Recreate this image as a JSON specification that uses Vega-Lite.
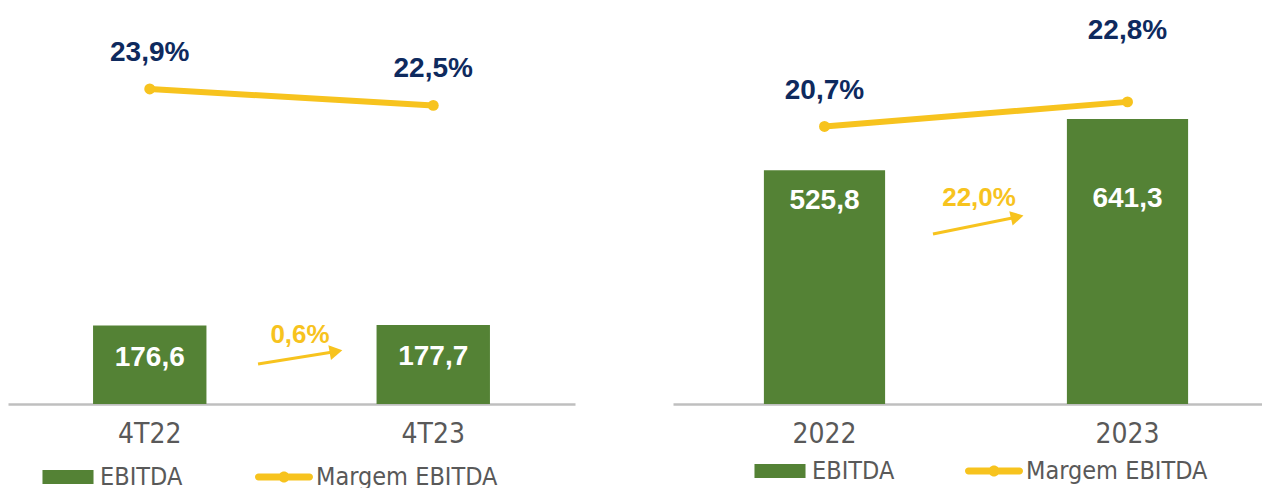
{
  "$schema": "https://vega.github.io/schema/vega-lite/v6.json",
  "padding": {"left": 8, "top": 0, "right": 0, "bottom": 0},
  "background": "white",
  "bounds": "flush",
  "spacing": 98,
  "config": {
    "view": {"stroke": null},
    "locale": {"number": {"decimal": ",", "thousands": ".", "grouping": [3], "currency": ["R$ ", ""]}}
  },
  "resolve": {"scale": {"color": "independent"}, "legend": {"color": "independent"}},
  "hconcat": [
    {
      "width": 567,
      "height": 404,
      "data": {"values": [
        {"periodo": "4T22", "ebitda": 176.6, "margem": 0.239},
        {"periodo": "4T23", "ebitda": 177.7, "margem": 0.225}
      ]},
      "layer": [
        {
          "layer": [
            {
              "mark": {"type": "bar"},
              "encoding": {
                "x": {"field": "periodo", "type": "nominal", "sort": null,
                  "scale": {"paddingInner": 0.6, "paddingOuter": 0.3},
                  "axis": {"title": null, "domainColor": "#BFBFBF", "domainWidth": 2.5, "ticks": false, "grid": false,
                    "labelFont": "DejaVu Sans Condensed", "labelFontSize": 28, "labelColor": "#595959", "labelPadding": 16, "labelAngle": 0}},
                "y": {"field": "ebitda", "type": "quantitative", "scale": {"domain": [0, 909]}, "axis": null},
                "color": {"datum": "EBITDA", "type": "nominal",
                  "scale": {"domain": ["EBITDA", "Margem EBITDA"], "range": ["#548235", "#F7C31E"]},
                  "legend": {"orient": "none", "legendX": 31, "legendY": 448, "direction": "horizontal", "title": null,
                    "padding": 0, "labelFont": "DejaVu Sans Condensed", "labelFontSize": 25, "labelColor": "#595959", "labelLimit": 400,
                    "symbolSize": 3364, "labelOffset": 3, "columnPadding": 72, "symbolStrokeWidth": 0,
                    "encode": {"symbols": {"update": {
                      "shape": {"signal": "datum.value === 'EBITDA' ? 'M-0.88,-0.24H0.88V0.24H-0.88Z' : 'M-0.88,-0.12H0.88A0.12,0.12 0 0,1 0.88,0.12H-0.88A0.12,0.12 0 0,1 -0.88,-0.12Z M-0.19,0A0.19,0.19 0 1,1 0.19,0A0.19,0.19 0 1,1 -0.19,0Z'"},
                      "fill": {"signal": "datum.value === 'EBITDA' ? '#548235' : '#F7C31E'"},
                      "stroke": {"value": null},
                      "strokeWidth": {"value": 0},
                      "opacity": {"value": 1}
                    }}}}}
              }
            },
            {
              "mark": {"type": "text", "font": "Liberation Sans", "fontWeight": "bold", "fontSize": 28, "color": "white", "baseline": "middle", "dy": 32},
              "encoding": {
                "x": {"field": "periodo", "type": "nominal", "sort": null},
                "y": {"field": "ebitda", "type": "quantitative", "scale": {"domain": [0, 909]}, "axis": null},
                "text": {"field": "ebitda", "type": "quantitative", "format": ".1f"}
              }
            },
            {
              "mark": {"type": "line", "strokeWidth": 6, "strokeCap": "round"},
              "encoding": {
                "x": {"field": "periodo", "type": "nominal", "sort": null},
                "y": {"field": "margem", "type": "quantitative", "scale": {"domain": [-0.03, 0.315]}, "axis": null},
                "color": {"datum": "Margem EBITDA", "type": "nominal"}
              }
            },
            {
              "mark": {"type": "point", "filled": true, "size": 120, "opacity": 1, "color": "#F7C31E"},
              "encoding": {
                "x": {"field": "periodo", "type": "nominal", "sort": null},
                "y": {"field": "margem", "type": "quantitative", "scale": {"domain": [-0.03, 0.315]}, "axis": null}
              }
            },
            {
              "mark": {"type": "text", "font": "Liberation Sans", "fontWeight": "bold", "fontSize": 28, "color": "#0E2A5E", "baseline": "middle", "dy": -36},
              "encoding": {
                "x": {"field": "periodo", "type": "nominal", "sort": null},
                "y": {"field": "margem", "type": "quantitative", "scale": {"domain": [-0.03, 0.315]}, "axis": null},
                "text": {"field": "margem", "type": "quantitative", "format": ".1%"}
              }
            }
          ],
          "resolve": {"scale": {"y": "independent"}}
        },
        {
          "data": {"values": [{"crescimento": 0.006}]},
          "layer": [
            {
              "mark": {"type": "rule", "color": "#F7C31E", "strokeWidth": 3},
              "encoding": {
                "x": {"datum": 0.882, "type": "quantitative", "scale": {"domain": [0, 2]}, "axis": null},
                "x2": {"datum": 1.157},
                "y": {"datum": 99, "type": "quantitative", "scale": {"domain": [0, 909]}, "axis": null},
                "y2": {"datum": 130}
              }
            },
            {
              "mark": {"type": "point", "shape": "triangle-right", "filled": true, "size": 220, "opacity": 1, "color": "#F7C31E", "angle": -10},
              "encoding": {
                "x": {"datum": 1.157, "type": "quantitative"},
                "y": {"datum": 130, "type": "quantitative"}
              }
            },
            {
              "mark": {"type": "text", "font": "Liberation Sans", "fontWeight": "bold", "fontSize": 26, "color": "#F7C31E", "baseline": "middle"},
              "encoding": {
                "x": {"datum": 1.03, "type": "quantitative"},
                "y": {"datum": 171, "type": "quantitative"},
                "text": {"field": "crescimento", "type": "quantitative", "format": ".1%"}
              }
            }
          ]
        }
      ],
      "resolve": {"scale": {"x": "independent", "y": "independent"}}
    },
    {
      "width": 606,
      "height": 404,
      "data": {"values": [
        {"periodo": "2022", "ebitda": 525.8, "margem": 0.207},
        {"periodo": "2023", "ebitda": 641.3, "margem": 0.228}
      ]},
      "layer": [
        {
          "layer": [
            {
              "mark": {"type": "bar"},
              "encoding": {
                "x": {"field": "periodo", "type": "nominal", "sort": null,
                  "scale": {"paddingInner": 0.6, "paddingOuter": 0.3},
                  "axis": {"title": null, "domainColor": "#BFBFBF", "domainWidth": 2.5, "ticks": false, "grid": false,
                    "labelFont": "DejaVu Sans Condensed", "labelFontSize": 28, "labelColor": "#595959", "labelPadding": 16, "labelAngle": 0}},
                "y": {"field": "ebitda", "type": "quantitative", "scale": {"domain": [0, 909]}, "axis": null},
                "color": {"datum": "EBITDA", "type": "nominal",
                  "scale": {"domain": ["EBITDA", "Margem EBITDA"], "range": ["#548235", "#F7C31E"]},
                  "legend": {"orient": "none", "legendX": 78, "legendY": 442, "direction": "horizontal", "title": null,
                    "padding": 0, "labelFont": "DejaVu Sans Condensed", "labelFontSize": 25, "labelColor": "#595959", "labelLimit": 400,
                    "symbolSize": 3364, "labelOffset": 3, "columnPadding": 70, "symbolStrokeWidth": 0,
                    "encode": {"symbols": {"update": {
                      "shape": {"signal": "datum.value === 'EBITDA' ? 'M-0.88,-0.24H0.88V0.24H-0.88Z' : 'M-0.88,-0.12H0.88A0.12,0.12 0 0,1 0.88,0.12H-0.88A0.12,0.12 0 0,1 -0.88,-0.12Z M-0.19,0A0.19,0.19 0 1,1 0.19,0A0.19,0.19 0 1,1 -0.19,0Z'"},
                      "fill": {"signal": "datum.value === 'EBITDA' ? '#548235' : '#F7C31E'"},
                      "stroke": {"value": null},
                      "strokeWidth": {"value": 0},
                      "opacity": {"value": 1}
                    }}}}}
              }
            },
            {
              "transform": [{"filter": "datum.periodo == '2022'"}],
              "mark": {"type": "text", "font": "Liberation Sans", "fontWeight": "bold", "fontSize": 28, "color": "white", "baseline": "middle", "dy": 31},
              "encoding": {
                "x": {"field": "periodo", "type": "nominal", "sort": null},
                "y": {"field": "ebitda", "type": "quantitative", "scale": {"domain": [0, 909]}, "axis": null},
                "text": {"field": "ebitda", "type": "quantitative", "format": ".1f"}
              }
            },
            {
              "transform": [{"filter": "datum.periodo == '2023'"}],
              "mark": {"type": "text", "font": "Liberation Sans", "fontWeight": "bold", "fontSize": 28, "color": "white", "baseline": "middle", "dy": 80},
              "encoding": {
                "x": {"field": "periodo", "type": "nominal", "sort": null},
                "y": {"field": "ebitda", "type": "quantitative", "scale": {"domain": [0, 909]}, "axis": null},
                "text": {"field": "ebitda", "type": "quantitative", "format": ".1f"}
              }
            },
            {
              "mark": {"type": "line", "strokeWidth": 6, "strokeCap": "round"},
              "encoding": {
                "x": {"field": "periodo", "type": "nominal", "sort": null},
                "y": {"field": "margem", "type": "quantitative", "scale": {"domain": [-0.03, 0.315]}, "axis": null},
                "color": {"datum": "Margem EBITDA", "type": "nominal"}
              }
            },
            {
              "mark": {"type": "point", "filled": true, "size": 120, "opacity": 1, "color": "#F7C31E"},
              "encoding": {
                "x": {"field": "periodo", "type": "nominal", "sort": null},
                "y": {"field": "margem", "type": "quantitative", "scale": {"domain": [-0.03, 0.315]}, "axis": null}
              }
            },
            {
              "transform": [{"filter": "datum.periodo == '2022'"}],
              "mark": {"type": "text", "font": "Liberation Sans", "fontWeight": "bold", "fontSize": 28, "color": "#0E2A5E", "baseline": "middle", "dy": -35},
              "encoding": {
                "x": {"field": "periodo", "type": "nominal", "sort": null},
                "y": {"field": "margem", "type": "quantitative", "scale": {"domain": [-0.03, 0.315]}, "axis": null},
                "text": {"field": "margem", "type": "quantitative", "format": ".1%"}
              }
            },
            {
              "transform": [{"filter": "datum.periodo == '2023'"}],
              "mark": {"type": "text", "font": "Liberation Sans", "fontWeight": "bold", "fontSize": 28, "color": "#0E2A5E", "baseline": "middle", "dy": -71},
              "encoding": {
                "x": {"field": "periodo", "type": "nominal", "sort": null},
                "y": {"field": "margem", "type": "quantitative", "scale": {"domain": [-0.03, 0.315]}, "axis": null},
                "text": {"field": "margem", "type": "quantitative", "format": ".1%"}
              }
            }
          ],
          "resolve": {"scale": {"y": "independent"}}
        },
        {
          "data": {"values": [{"crescimento": 0.22}]},
          "layer": [
            {
              "mark": {"type": "rule", "color": "#F7C31E", "strokeWidth": 3},
              "encoding": {
                "x": {"datum": 0.858, "type": "quantitative", "scale": {"domain": [0, 2]}, "axis": null},
                "x2": {"datum": 1.136},
                "y": {"datum": 421, "type": "quantitative", "scale": {"domain": [0, 909]}, "axis": null},
                "y2": {"datum": 463}
              }
            },
            {
              "mark": {"type": "point", "shape": "triangle-right", "filled": true, "size": 220, "opacity": 1, "color": "#F7C31E", "angle": -13},
              "encoding": {
                "x": {"datum": 1.136, "type": "quantitative"},
                "y": {"datum": 463, "type": "quantitative"}
              }
            },
            {
              "mark": {"type": "text", "font": "Liberation Sans", "fontWeight": "bold", "fontSize": 26, "color": "#F7C31E", "baseline": "middle"},
              "encoding": {
                "x": {"datum": 1.01, "type": "quantitative"},
                "y": {"datum": 510, "type": "quantitative"},
                "text": {"field": "crescimento", "type": "quantitative", "format": ".1%"}
              }
            }
          ]
        }
      ],
      "resolve": {"scale": {"x": "independent", "y": "independent"}}
    }
  ]
}
